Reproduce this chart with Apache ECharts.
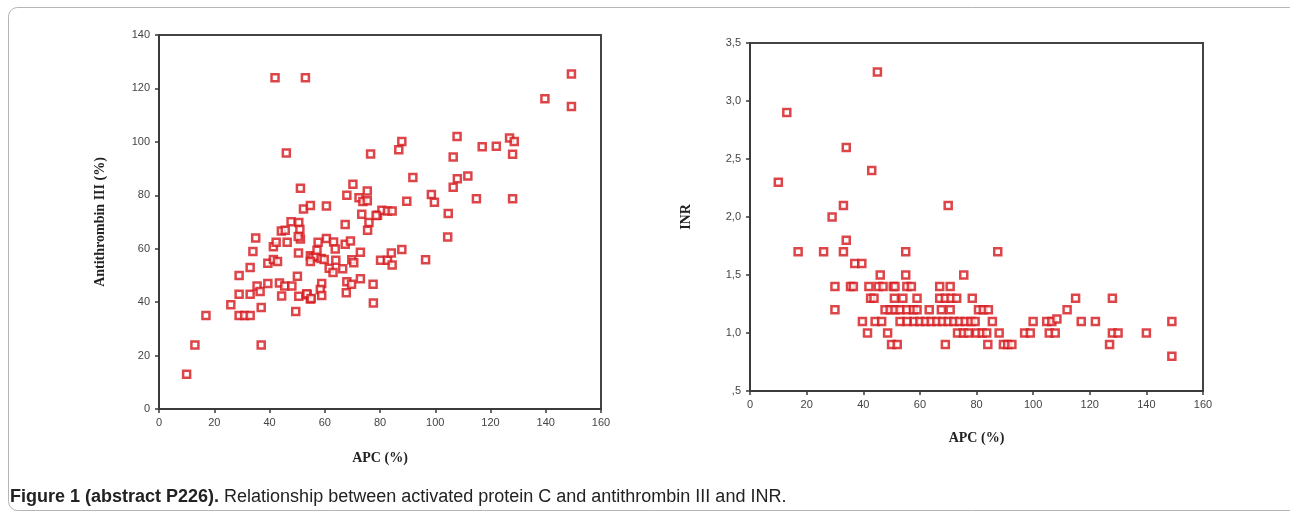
<!DOCTYPE html>
<html>
<head>
<meta charset="utf-8">
<script src="https://cdn.jsdelivr.net/npm/echarts@6/dist/echarts.min.js"></script>
<style>
html,body{margin:0;padding:0;background:#fff;}
#chart{width:1290px;height:516px;}
</style>
</head>
<body>
<div id="chart"></div>
<script>
// ---- Left panel: APC (%) vs Antithrombin III (%) ----
const leftApc = [10,13,17,26,29,31,33,37,37,29,33,29,33,34,35,35.5,36.6,39.4,39.4,41.4,
  42.9,41.4,42.4,46.4,43.6,45.5,48.1,44.4,49.5,50.6,53.6,54.8,50.1,50.5,44.3,45.7,47.8,50.6,51,51.2,
  50.4,46.1,42,53,51.2,52.3,54.8,60.6,54.8,55.7,56.8,54.8,57.2,57.6,60.6,63.2,63.8,58.7,59.8,64,
  61.6,63,66.5,58.9,58.4,58.9,67.4,67.4,69.3,72.9,69.8,70.5,68,69.7,72.9,67.8,77.5,77.6,70.2,76.6,
  68,75.4,72.4,73.8,75.4,73.4,76,75.5,79.1,80.7,82.7,84.4,80.2,82.7,84.4,84.1,87.9,87.9,86.8,91.9,
  89.7,98.6,99.7,96.5,104.7,104.5,106.5,106.5,108,107.9,111.8,114.9,117,122.1,126.9,128.6,128,128,139.7,149.3,
  149.3,78.6,53.5,55.1];
const leftAT = [13,24,35,39,35,35,35,24,38,43,43,50,53,59,64,46,44,47,54.6,56,
  55.2,60.7,62.4,62.4,47.2,46,46,42.3,36.5,42.2,42.8,41.2,49.7,58.4,66.6,66.9,70.1,69.8,67.2,63.6,
  64.6,95.8,124,124,82.6,74.9,76.2,76,57.4,56.7,57.2,55.2,59.4,62.4,63.8,62.5,59.9,56.3,56,55.7,
  52.7,51.1,52.5,47,44.7,42.5,69.1,61.7,62.9,58.7,55.9,54.7,47.6,46.7,48.8,43.5,46.7,39.7,84.1,95.5,
  80,81.6,79.1,77.7,78,72.9,69.8,66.9,72.5,74.4,74.1,74.1,55.7,55.7,53.9,58.4,59.7,100.1,97,86.7,
  77.8,80.3,77.4,55.9,73.2,64.4,94.3,83,86.2,102,87.2,78.7,98.2,98.4,101.4,100.1,95.4,78.7,116.1,125.4,
  113.2,72.4,43.1,41.4];

// ---- Right panel: APC (%) vs INR ----
const rightApc = [45,13,34,43,10,33,70,29,34,17,26,33,55,87.5,37,39.5,46,55,75.5,
  30,35.5,36.5,42,45.3,47,50.6,51.2,55.4,57,67,70.7,
  42.6,43.8,51,54,59,67,69,71,73,78.5,115,128,
  30,47.7,49.5,51.2,53,55.4,57.7,59,63.3,67.6,70.7,80.7,82.4,84.2,112,
  39.7,44.2,46.5,53,55.5,58,60,62,64,66,68,70,72,74,76,78,79.5,85.6,100,104.8,106.6,117,122,149,
  108.4,
  41.5,48.6,73.3,75.4,77.1,80,82,83.6,88,97,99,105.7,107.8,128,130,140,
  50,52,69,84,89.5,91,92.5,127,
  149];
const rightInr = [3.25,2.9,2.6,2.4,2.3,2.1,2.1,2.0,1.8,1.7,1.7,1.7,1.7,1.7,1.6,1.6,1.5,1.5,1.5,
  1.4,1.4,1.4,1.4,1.4,1.4,1.4,1.4,1.4,1.4,1.4,1.4,
  1.3,1.3,1.3,1.3,1.3,1.3,1.3,1.3,1.3,1.3,1.3,1.3,
  1.2,1.2,1.2,1.2,1.2,1.2,1.2,1.2,1.2,1.2,1.2,1.2,1.2,1.2,1.2,
  1.1,1.1,1.1,1.1,1.1,1.1,1.1,1.1,1.1,1.1,1.1,1.1,1.1,1.1,1.1,1.1,1.1,1.1,1.1,1.1,1.1,1.1,1.1,1.1,
  1.12,
  1.0,1.0,1.0,1.0,1.0,1.0,1.0,1.0,1.0,1.0,1.0,1.0,1.0,1.0,1.0,1.0,
  0.9,0.9,0.9,0.9,0.9,0.9,0.9,0.9,
  0.8];

const xTitle = 'APC (%)';
const leftYTitle = 'Antithrombin III (%)';
const rightYTitle = 'INR';
const captionBold = 'Figure 1 (abstract P226).';
const captionText = ' Relationship between activated protein C and antithrombin III and INR.';

const leftData = leftApc.map((x, i) => [x, leftAT[i]]);
const rightData = rightApc.map((x, i) => [x, rightInr[i]]);

const axisColor = '#3a3a3a';
const labelStyle = {color: '#444', fontSize: 11, fontFamily: 'Liberation Sans, Arial, sans-serif'};
const nameStyle = {color: '#222', fontSize: 14, fontWeight: 'bold', fontFamily: 'Liberation Serif, Times New Roman, serif'};
const markStyle = {color: '#ffffff', borderColor: '#d4171c', borderWidth: 2.5};

function xAx(gridIndex, gap) {
  return {
    gridIndex, type: 'value', min: 0, max: 160, interval: 20,
    name: xTitle, nameLocation: 'middle', nameGap: gap, nameTextStyle: nameStyle,
    axisLine: {show: true, onZero: false, lineStyle: {color: axisColor, width: 2}},
    axisTick: {show: true, inside: false, length: 4, lineStyle: {color: axisColor, width: 1.5}},
    axisLabel: Object.assign({margin: 8}, labelStyle),
    splitLine: {show: false}
  };
}

const chart = echarts.init(document.getElementById('chart'), null, {renderer: 'canvas'});
chart.setOption({
  backgroundColor: '#fff',
  animation: false,
  graphic: [
    {type: 'rect', shape: {x: 8.5, y: 7.5, width: 1300, height: 503, r: 9},
     style: {fill: 'none', stroke: '#b5b5b5', lineWidth: 1}, silent: true},
    {type: 'text', left: 10, top: 488, style: {
      rich: {
        b: {fontWeight: 'bold', fontSize: 18, fontFamily: 'Liberation Sans, Arial, sans-serif', fill: '#222'},
        n: {fontSize: 18, fontFamily: 'Liberation Sans, Arial, sans-serif', fill: '#222'}
      },
      text: '{b|' + captionBold + '}{n|' + captionText + '}'
    }}
  ],
  grid: [
    {left: 159, right: 689, top: 35, bottom: 107, show: true, borderColor: '#444', borderWidth: 2, backgroundColor: 'transparent'},
    {left: 750, right: 87, top: 43, bottom: 125, show: true, borderColor: '#444', borderWidth: 2, backgroundColor: 'transparent'}
  ],
  xAxis: [xAx(0, 42), xAx(1, 40)],
  yAxis: [
    {gridIndex: 0, type: 'value', min: 0, max: 140, interval: 20,
     name: leftYTitle, nameLocation: 'middle', nameGap: 52, nameTextStyle: nameStyle,
     axisLine: {show: true, onZero: false, lineStyle: {color: axisColor, width: 2}},
     axisTick: {show: true, length: 4, lineStyle: {color: axisColor, width: 1.5}},
     axisLabel: Object.assign({margin: 9}, labelStyle),
     splitLine: {show: false}},
    {gridIndex: 1, type: 'value', min: 0.5, max: 3.5, interval: 0.5,
     name: rightYTitle, nameLocation: 'middle', nameGap: 57, nameTextStyle: nameStyle,
     axisLine: {show: true, onZero: false, lineStyle: {color: axisColor, width: 2}},
     axisTick: {show: true, length: 4, lineStyle: {color: axisColor, width: 1.5}},
     axisLabel: Object.assign({margin: 9, formatter: v => v.toFixed(1).replace('.', ',').replace(/^0/, '')}, labelStyle),
     splitLine: {show: false}}
  ],
  series: [
    {type: 'scatter', xAxisIndex: 0, yAxisIndex: 0, data: leftData, symbol: 'rect', symbolSize: 7, itemStyle: markStyle},
    {type: 'scatter', xAxisIndex: 1, yAxisIndex: 1, data: rightData, symbol: 'rect', symbolSize: 7, itemStyle: markStyle}
  ]
});
</script>
</body>
</html>
